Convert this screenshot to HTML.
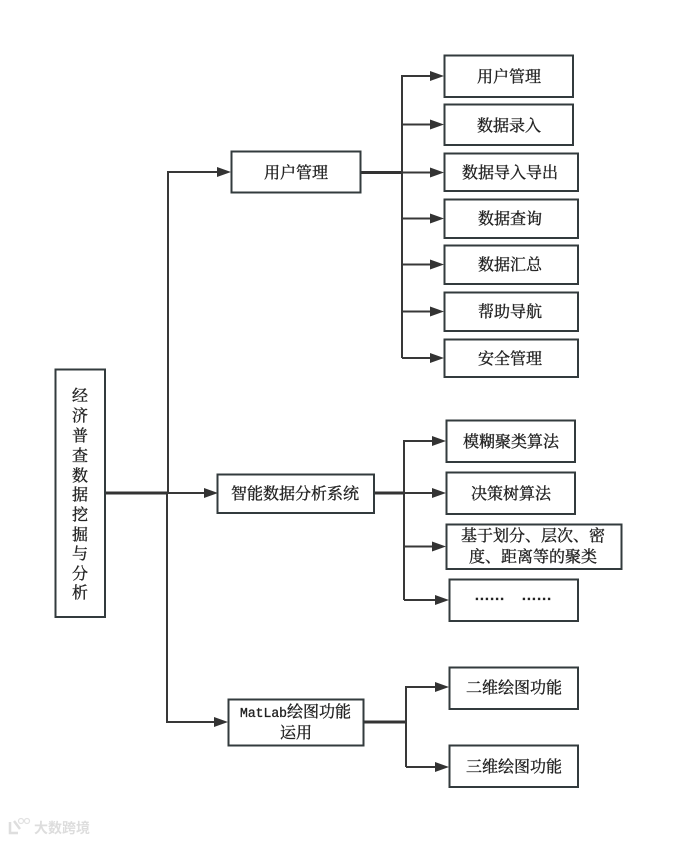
<!DOCTYPE html>
<html>
<head>
<meta charset="utf-8">
<style>
html,body{margin:0;padding:0;background:#fff;width:676px;height:841px;overflow:hidden}
svg{display:block}
text{font-family:"Liberation Serif","Noto Serif CJK SC",serif;font-size:16px;fill:#222;stroke:#222;stroke-width:0.35px;text-anchor:middle}
.b{fill:#fff;stroke:#333b3d;stroke-width:2}
.l{fill:none;stroke:#383838;stroke-width:2}
.t{fill:none;stroke:#333;stroke-width:3}
.a{fill:#333}
</style>
</head>
<body>
<svg width="676" height="841" viewBox="0 0 676 841" xmlns="http://www.w3.org/2000/svg">
<rect width="676" height="841" fill="#fff"/>

<!-- connectors -->
<path class="t" d="M105 493H167"/>
<path class="l" d="M167 493H204M168 493V172H218M167 493V722H215"/>
<path class="a" d="M217 167L231 172L217 177ZM204 488L218 493L204 498ZM214 717L228 722L214 727Z"/>

<path class="t" d="M360 172.500H402"/>
<path class="l" d="M402 358V76H431M402 124.500H431M402 172.500H431M402 218.500H431M402 264.500H431M402 311.500H431M402 358H431"/>
<path class="a" d="M430 71L444 76L430 81ZM430 119.500L444 124.500L430 129.500ZM430 167.500L444 172.500L430 177.500ZM430 213.500L444 218.500L430 223.500ZM430 259.500L444 264.500L430 269.500ZM430 306.500L444 311.500L430 316.500ZM430 353L444 358L430 363Z"/>

<path class="t" d="M374 493H404"/>
<path class="l" d="M404 600V441H433M404 493H433M404 546.500H433M404 600H436"/>
<path class="a" d="M432 436L446 441L432 446ZM432 488L446 493L432 498ZM432 541.500L446 546.500L432 551.500ZM435 595L449 600L435 605Z"/>

<path class="t" d="M363 722H406"/>
<path class="l" d="M406 767V687H436M406 767H436"/>
<path class="a" d="M435 682L449 687L435 692ZM435 762L449 767L435 772Z"/>

<!-- root -->
<rect class="b" x="55.500" y="369.500" width="49.500" height="247.500"/>
<g>
<text x="80" y="401">经</text>
<text x="80" y="421">济</text>
<text x="80" y="441">普</text>
<text x="80" y="461">查</text>
<text x="80" y="481">数</text>
<text x="80" y="500">据</text>
<text x="80" y="520">挖</text>
<text x="80" y="540">掘</text>
<text x="80" y="559">与</text>
<text x="80" y="579">分</text>
<text x="80" y="598">析</text>
</g>

<!-- mid -->
<rect class="b" x="231.500" y="151.500" width="129" height="41"/>
<text x="296" y="178">用户管理</text>
<rect class="b" x="217.500" y="474.500" width="156.500" height="38.500"/>
<text x="295" y="499">智能数据分析系统</text>
<rect class="b" x="228.500" y="699.500" width="135" height="46"/>
<text x="240" y="717" style="text-anchor:start;font-family:'Liberation Mono',monospace;font-size:14px" textLength="47" lengthAdjust="spacingAndGlyphs">MatLab</text>
<text x="287" y="717" style="text-anchor:start">绘图功能</text>
<text x="296" y="738">运用</text>

<!-- right column 1 -->
<rect class="b" x="444.500" y="55.500" width="128.500" height="41.500"/>
<text x="509" y="82">用户管理</text>
<rect class="b" x="444.500" y="104.500" width="128.500" height="40.500"/>
<text x="509" y="131">数据录入</text>
<rect class="b" x="444.500" y="153.500" width="133.500" height="37.500"/>
<text x="510" y="178">数据导入导出</text>
<rect class="b" x="444.500" y="199.500" width="133.500" height="38.500"/>
<text x="510" y="224">数据查询</text>
<rect class="b" x="444.500" y="245.500" width="133.500" height="38.500"/>
<text x="510" y="270">数据汇总</text>
<rect class="b" x="444.500" y="292.500" width="133.500" height="38.500"/>
<text x="510" y="317">帮助导航</text>
<rect class="b" x="444.500" y="339.500" width="133.500" height="37.500"/>
<text x="510" y="364">安全管理</text>

<!-- right column 2 -->
<rect class="b" x="446.500" y="420.500" width="128.500" height="41.500"/>
<text x="511" y="447">模糊聚类算法</text>
<rect class="b" x="446.500" y="472.500" width="128.500" height="41.500"/>
<text x="511" y="499">决策树算法</text>
<rect class="b" x="446.500" y="524.500" width="175" height="44.500"/>
<text x="533" y="541">基于划分、层次、密</text>
<text x="533" y="562">度、距离等的聚类</text>
<rect class="b" x="449.500" y="579.500" width="128.500" height="41.500"/>
<text x="475" y="600" style="text-anchor:start;font-family:'Liberation Sans',sans-serif;font-size:14px;font-weight:bold" textLength="29">......</text>
<text x="522" y="600" style="text-anchor:start;font-family:'Liberation Sans',sans-serif;font-size:14px;font-weight:bold" textLength="29">......</text>

<!-- right column 3 -->
<rect class="b" x="449.500" y="667.500" width="128.500" height="41.500"/>
<text x="514" y="693">二维绘图功能</text>
<rect class="b" x="449.500" y="745.500" width="128.500" height="41.500"/>
<text x="514" y="772">三维绘图功能</text>

<!-- watermark -->
<g opacity="0.75">
<path d="M10 822V833H18M14 821L20 829" fill="none" stroke="#d4d4d4" stroke-width="2.500"/>
<circle cx="21" cy="821" r="2.500" fill="none" stroke="#d8d8d8" stroke-width="1.200"/>
<circle cx="27" cy="821" r="2.500" fill="none" stroke="#d8d8d8" stroke-width="1.200"/>
<text x="62" y="833" style="font-family:'Liberation Sans','Noto Sans CJK SC',sans-serif;font-size:14px;fill:#d2d2d2;stroke:none;font-weight:bold">大数跨境</text>
</g>
</svg>
</body>
</html>
